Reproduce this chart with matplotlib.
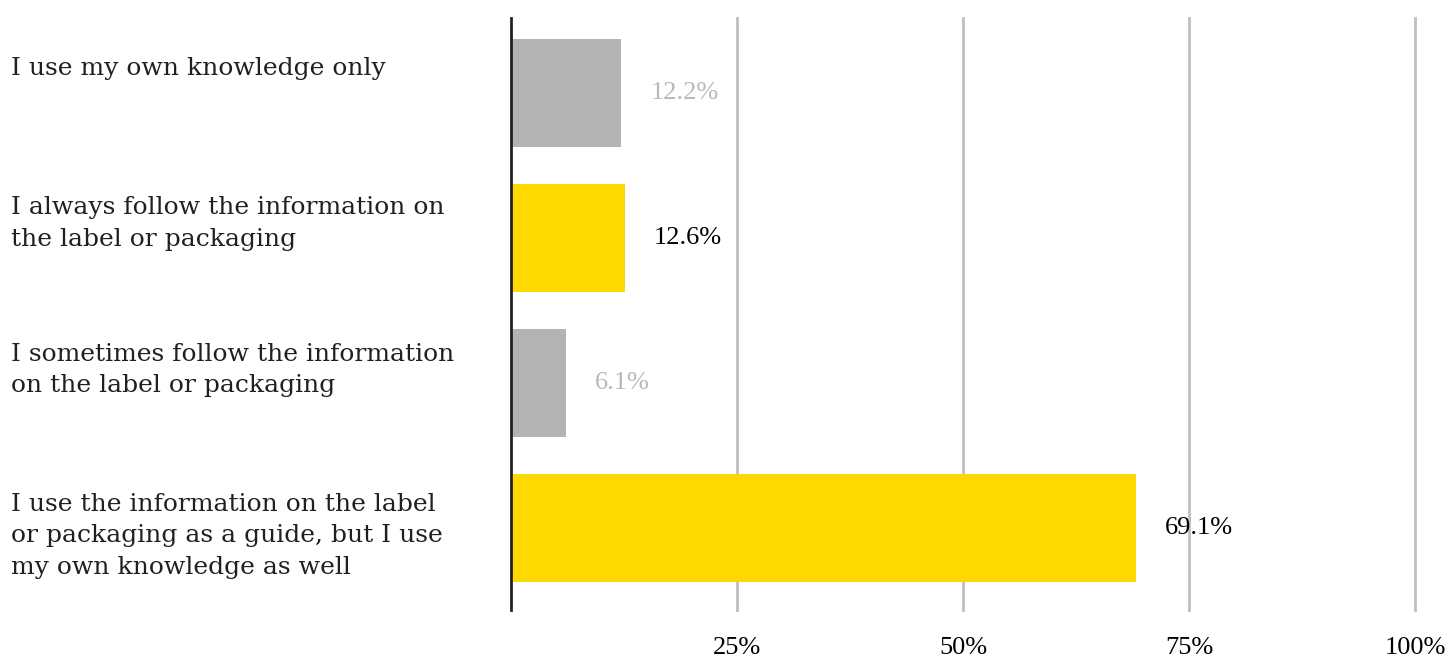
import matplotlib
matplotlib.use('Agg')
import matplotlib.pyplot as plt
from matplotlib.transforms import blended_transform_factory

categories = ['I use my own knowledge only',
              'I always follow the information on\nthe label or packaging',
              'I sometimes follow the information\non the label or packaging',
              'I use the information on the label\nor packaging as a guide, but I use\nmy own knowledge as well']
values = [12.2, 12.6, 6.1, 69.1]
bar_colors = ['#b3b3b3', '#ffd800', '#b3b3b3', '#ffd800']
value_colors = ['#b8b8b8', 'black', '#b8b8b8', 'black']
tick_vals = [25, 50, 75, 100]
tick_labels = ['25%', '50%', '75%', '100%']

# small nudges so the category text sits where the original put it
label_shift = [-0.17, -0.10, -0.09, 0.055]

fig = plt.figure(figsize=(14.49, 6.59), dpi=100)
ax = fig.add_axes([511 / 1449, 49 / 659, 904 / 1449, 592 / 659])

ypos = list(range(len(values)))
ax.barh(ypos, values, height=0.745, color=bar_colors, zorder=2)
ax.set_xlim(0, 100)
ax.set_ylim(3.566, -0.517)

for y, v, c in zip(ypos, values, value_colors):
    ax.annotate(f'{v}%', (v, y), xytext=(21, 0), textcoords='offset points',
                ha='left', va='center', fontsize=19, color=c,
                family='Liberation Serif', zorder=3)

tr = blended_transform_factory(fig.transFigure, ax.transData)
for y, s, name in zip(ypos, label_shift, categories):
    ax.text(11 / 1449, y + s, name, transform=tr, ha='left', va='center',
            fontsize=18, color='#231f20', family='DejaVu Serif',
            linespacing=1.45)

ax.set_xticks(tick_vals)
ax.set_xticklabels(tick_labels, family='Liberation Serif', fontsize=19)
ax.tick_params(axis='x', length=0, pad=19.5)
ax.set_yticks([])
ax.grid(axis='x', color='#bfbfbf', linewidth=2, zorder=0)
for gl in ax.get_xgridlines():
    gl.set_clip_on(False)
for side in ['top', 'right', 'bottom']:
    ax.spines[side].set_visible(False)
ax.spines['left'].set_color('#222222')
ax.spines['left'].set_linewidth(2)
ax.spines['left'].set_zorder(4)

fig.savefig('out.png', dpi=100)
